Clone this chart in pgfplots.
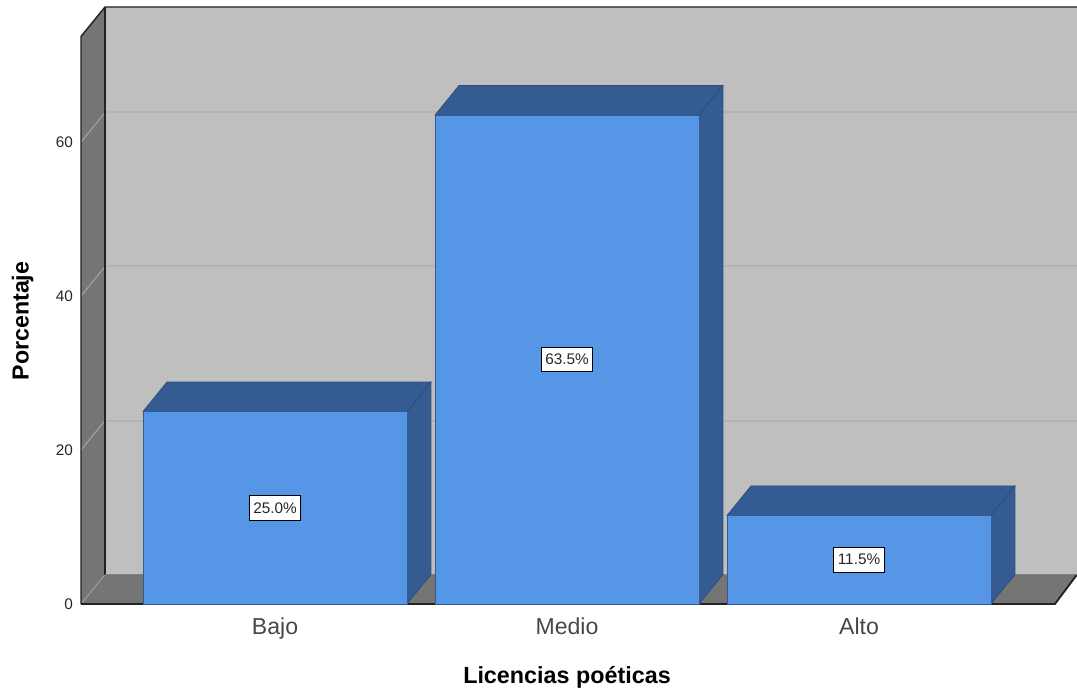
\documentclass[border=0pt]{standalone}
\usepackage{fontspec}
\setmainfont{Liberation Sans}
\usepackage{pgfplots}
\pgfplotsset{compat=1.18}

\definecolor{wallback}{HTML}{BFBFBF}
\definecolor{wallside}{HTML}{757575}
\definecolor{gridback}{HTML}{B3B3B3}
\definecolor{gridside}{HTML}{A3A3A3}
\definecolor{barfront}{HTML}{5596E6}
\definecolor{bardark}{HTML}{345B92}
\definecolor{frameline}{HTML}{222222}

\begin{document}
\begin{tikzpicture}
  \path[use as bounding box] (-60.75pt,-63pt) rectangle (747pt,453pt);
  \begin{axis}[
    scale only axis,
    width=747pt,height=447.75pt,
    xmin=-0.6644,xmax=2.7466,
    ymin=0,ymax=77.53,
    clip=false,
    axis line style={draw=none},
    tick style={draw=none},
    xtick={0,1,2},
    xticklabels={Bajo,Medio,Alto},
    ytick={0,20,40,60},
    /pgf/number format/assume math mode=true,
    xticklabel style={font=\fontsize{17.3}{17}\selectfont,text=black!72,yshift=-7pt},
    yticklabel style={font=\fontsize{11.5}{12}\selectfont,text=black!85,xshift=-2.5pt},
    xlabel={Licencias poéticas},
    ylabel={Porcentaje},
    xlabel style={at={(axis cs:1.0,-9.5)},anchor=center,font=\fontsize{17.5}{18}\bfseries},
    ylabel style={at={(axis cs:-0.864,36.75)},anchor=center,font=\fontsize{17.4}{18}\bfseries},
  ]
    % back wall, side wall, floor
    \addplot[fill=wallback,draw=none] coordinates {(-0.582,3.83) (2.7466,3.83) (2.7466,77.53) (-0.582,77.53)} -- cycle;
    \addplot[fill=wallside,draw=none] coordinates {(-0.6644,0) (-0.582,3.83) (-0.582,77.53) (-0.6644,73.7)} -- cycle;
    \addplot[fill=wallside,draw=none] coordinates {(-0.6644,0) (2.671,0) (2.7466,3.83) (-0.582,3.83)} -- cycle;
    % grid lines
    \addplot[gridback,line width=1.5pt] coordinates {(-0.582,23.83) (2.7466,23.83)};
    \addplot[gridback,line width=1.5pt] coordinates {(-0.582,43.83) (2.7466,43.83)};
    \addplot[gridback,line width=1.5pt] coordinates {(-0.582,63.83) (2.7466,63.83)};
    \addplot[gridside!80!wallside,line width=0.8pt] coordinates {(-0.6644,0) (-0.582,3.83)};
    \addplot[gridside,line width=0.8pt] coordinates {(-0.6644,20) (-0.582,23.83)};
    \addplot[gridside,line width=0.8pt] coordinates {(-0.6644,40) (-0.582,43.83)};
    \addplot[gridside,line width=0.8pt] coordinates {(-0.6644,60) (-0.582,63.83)};
    % frame
    \addplot[frameline,line width=1.1pt] coordinates {(-0.6644,0) (-0.6644,73.7) (-0.582,77.53) (2.7466,77.53)};
    \addplot[frameline,line width=1.6pt] coordinates {(-0.582,3.83) (-0.582,77.53)};
    \addplot[frameline,line width=1.4pt] coordinates {(-0.6644,0) (2.671,0) (2.7466,3.83)};
    \addplot[black!50,line width=0.8pt] coordinates {(-0.582,3.83) (2.7466,3.83)};
    % Bajo
    \addplot[fill=bardark,draw=bardark!85!black,line width=0.5pt] coordinates {(-0.452,25) (0.452,25) (0.534,28.83) (-0.37,28.83)} -- cycle;
    \addplot[fill=bardark,draw=bardark!85!black,line width=0.5pt] coordinates {(0.452,0) (0.534,3.83) (0.534,28.83) (0.452,25)} -- cycle;
    % Medio
    \addplot[fill=bardark,draw=bardark!85!black,line width=0.5pt] coordinates {(0.548,63.5) (1.452,63.5) (1.534,67.33) (0.63,67.33)} -- cycle;
    \addplot[fill=bardark,draw=bardark!85!black,line width=0.5pt] coordinates {(1.452,0) (1.534,3.83) (1.534,67.33) (1.452,63.5)} -- cycle;
    % Alto
    \addplot[fill=bardark,draw=bardark!85!black,line width=0.5pt] coordinates {(1.548,11.5) (2.452,11.5) (2.534,15.33) (1.63,15.33)} -- cycle;
    \addplot[fill=bardark,draw=bardark!85!black,line width=0.5pt] coordinates {(2.452,0) (2.534,3.83) (2.534,15.33) (2.452,11.5)} -- cycle;
    % bar fronts
    \addplot[ybar,bar width=0.904,bar shift=0pt,fill=barfront,draw=bardark,line width=0.5pt]
      coordinates {(0,25) (1,63.5) (2,11.5)};
    % value labels
    \addplot[only marks,mark=none,point meta=explicit symbolic,
      nodes near coords,
      every node near coord/.style={anchor=center,fill=white,draw=black,line width=0.7pt,
        inner xsep=3pt,inner ysep=5.2pt,text=black!85,font=\fontsize{11.5}{12}\selectfont}]
      coordinates {(0,12.5)[25.0\%] (1,31.75)[63.5\%] (2,5.75)[11.5\%]};
  \end{axis}
\end{tikzpicture}
\end{document}
